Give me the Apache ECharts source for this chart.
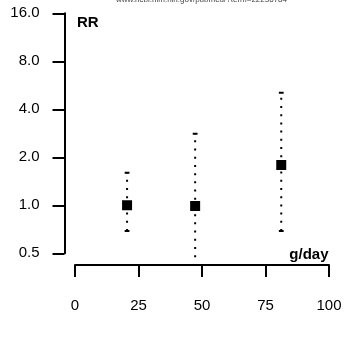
<!DOCTYPE html>
<html>
<head>
<meta charset="utf-8">
<script src="https://cdn.jsdelivr.net/npm/echarts@6/dist/echarts.min.js"></script>
<style>html,body{margin:0;padding:0;background:#fff;}#c{width:346px;height:363px;}</style>
</head>
<body>
<div id="c"></div>
<script>
// Data
const doses = [20.5, 47.3, 81.2];          // g/day
const rr = [1.0, 0.99, 1.79];              // point estimates
const ciLow = [0.69, 0.42, 0.69];          // lower CI (2nd is clipped below plot)
const ciHigh = [1.60, 2.81, 5.08];         // upper CI
const xTicks = [0, 25, 50, 75, 100];
const yTicks = [0.5, 1, 2, 4, 8, 16];
const urlText = 'www.ncbi.nlm.nih.gov/pubmed/?term=22236784';

const FONT = '"Liberation Sans", Arial, Helvetica, sans-serif';
const chart = echarts.init(document.getElementById('c'), null, {renderer: 'canvas'});

const ext = 0.04;
const xMin = xTicks[0], xMax = xTicks[xTicks.length - 1];
const xPad = (xMax - xMin) * ext;
const lMin = Math.log2(yTicks[0]), lMax = Math.log2(yTicks[yTicks.length - 1]);
const lPad = (lMax - lMin) * ext;

// tick-range region
const axL = 75, axR = 17, axT = 13.3, axB = 109.7;
const pxX = (346 - axL - axR) / (xMax - xMin);
const pxY = (363 - axT - axB) / (lMax - lMin);
const yAxisX = 64.5, xAxisY = 265;

const seriesData = doses.map((d, i) => [d, rr[i], ciLow[i], ciHigh[i]]);

const hiddenX = (gi) => ({gridIndex: gi, type: 'value', min: 0, max: 1, show: false});
const hiddenY = (gi) => ({gridIndex: gi, type: 'value', min: 0, max: 1, show: false});

chart.setOption({
  animation: false,
  textStyle: {fontFamily: FONT},
  grid: [
    {left: axL - xPad * pxX, right: axR - xPad * pxX, top: axT - lPad * pxY, bottom: axB - lPad * pxY, containLabel: false},
    {left: axL, right: axR, bottom: 363 - xAxisY, height: 10, containLabel: false},
    {left: yAxisX, width: 10, top: axT, bottom: axB, containLabel: false}
  ],
  xAxis: [
    {gridIndex: 0, type: 'value', min: xMin - xPad, max: xMax + xPad, show: false},
    {gridIndex: 1, type: 'value', min: xMin, max: xMax, interval: 25, position: 'bottom',
     axisLine: {show: true, onZero: false, lineStyle: {color: '#000', width: 2}},
     axisTick: {show: true, length: 12, inside: false, lineStyle: {color: '#000', width: 2}},
     axisLabel: {show: true, margin: 33, color: '#000', fontSize: 15, fontFamily: FONT,
       formatter: v => String(v), showMinLabel: true, showMaxLabel: true},
     splitLine: {show: false}},
    hiddenX(2)
  ],
  yAxis: [
    {gridIndex: 0, type: 'log', logBase: 2, min: Math.pow(2, lMin - lPad), max: Math.pow(2, lMax + lPad), show: false},
    hiddenY(1),
    {gridIndex: 2, type: 'log', logBase: 2, min: yTicks[0], max: yTicks[yTicks.length - 1], interval: 1, position: 'left',
     axisLine: {show: true, onZero: false, lineStyle: {color: '#000', width: 2}},
     axisTick: {show: true, length: 12, inside: false, lineStyle: {color: '#000', width: 2}},
     axisLabel: {show: true, margin: 25, color: '#000', fontSize: 15, fontFamily: FONT,
       formatter: v => Number(v).toFixed(1), showMinLabel: true, showMaxLabel: true},
     splitLine: {show: false}}
  ],
  series: [{
    type: 'custom',
    xAxisIndex: 0, yAxisIndex: 0,
    clip: true,
    data: seriesData,
    renderItem: function (params, api) {
      const x = api.value(0);
      const pE = api.coord([x, api.value(1)]);
      const pL = api.coord([x, api.value(2)]);
      const pH = api.coord([x, api.value(3)]);
      const cw = 2.4;
      return {
        type: 'group',
        children: [
          {type: 'line', shape: {x1: pL[0], y1: pL[1], x2: pH[0], y2: pH[1]},
           style: {stroke: '#000', lineWidth: 2, lineDash: [2, 6.2], lineCap: 'butt'}},
          {type: 'line', shape: {x1: pL[0] - cw, y1: pL[1], x2: pL[0] + cw, y2: pL[1]},
           style: {stroke: '#000', lineWidth: 2}},
          {type: 'line', shape: {x1: pH[0] - cw, y1: pH[1], x2: pH[0] + cw, y2: pH[1]},
           style: {stroke: '#000', lineWidth: 2}},
          {type: 'rect', shape: {x: pE[0] - 5, y: pE[1] - 5, width: 10, height: 10},
           style: {fill: '#000'}}
        ]
      };
    }
  }],
  graphic: [
    {type: 'text', left: 116, top: -4,
     style: {text: urlText, fontSize: 8, fill: '#444', fontFamily: FONT}},
    {type: 'text', left: 77, top: 15,
     style: {text: 'RR', fontSize: 15, fontWeight: 'bold', fill: '#000', fontFamily: FONT}},
    {type: 'text', right: 346 - 328.5, top: 247.5,
     style: {text: 'g/day', fontSize: 15, fontWeight: 'bold', fill: '#000', fontFamily: FONT}}
  ]
});
</script>
</body>
</html>
